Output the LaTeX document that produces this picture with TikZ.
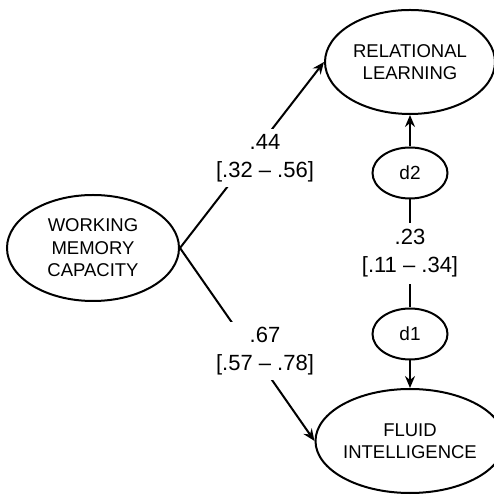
\documentclass[tikz,border=0pt]{standalone}
\usepackage{fontspec}
\setmainfont{Liberation Sans}
\usetikzlibrary{shapes.geometric, positioning, arrows.meta}
\tikzset{
	x=1bp, y=1bp,
	>={Stealth[length=12bp, width=10bp, inset=4bp]},
	every picture/.style={line width=2bp},
	every node/.style={font=\fontsize{18.5bp}{22.5bp}\selectfont},
	latent/.style={ellipse, draw, inner sep=0pt, align=center,
		minimum width=170bp, minimum height=104bp},
	dist/.style={ellipse, draw, inner sep=0pt,
		minimum width=75bp, minimum height=51bp,
		font=\fontsize{19bp}{22bp}\selectfont},
	coef/.style={fill=white, align=center, inner sep=5bp,
		font=\fontsize{22bp}{28bp}\selectfont}}

\begin{document}
\begin{tikzpicture}
		\useasboundingbox (0,0) rectangle (494,496);
		
		\node[latent, minimum width=172bp, minimum height=106bp] (wmc) at (93,248) {WORKING\\MEMORY\\CAPACITY};
		
		\node[latent] (rl) at (410,434) {RELATIONAL\\LEARNING};
		\node[latent] (fi) at (410,55) {FLUID\\INTELLIGENCE};
		
		\node[dist] (d2) at (410,323) {d2};
		\node[dist] (d1) at (410,162) {d1};
		
		\draw[->] (wmc.east) -- (rl.west);
		\draw[->] (wmc.east) -- (fi.west);
		\draw[->] (d2) -- (rl);
		\draw[->] (d1) -- (fi);
		\draw (d2) -- node[coef, inner sep=7bp] {.23\\{}[.11 -- .34]} (d1);
		
		\node[coef] (b1) at (265,338) {.44\\{}[.32 -- .56]};
		\node[coef] (b2) at (265,145) {.67\\{}[.57 -- .78]};
	\end{tikzpicture}
\end{document}
